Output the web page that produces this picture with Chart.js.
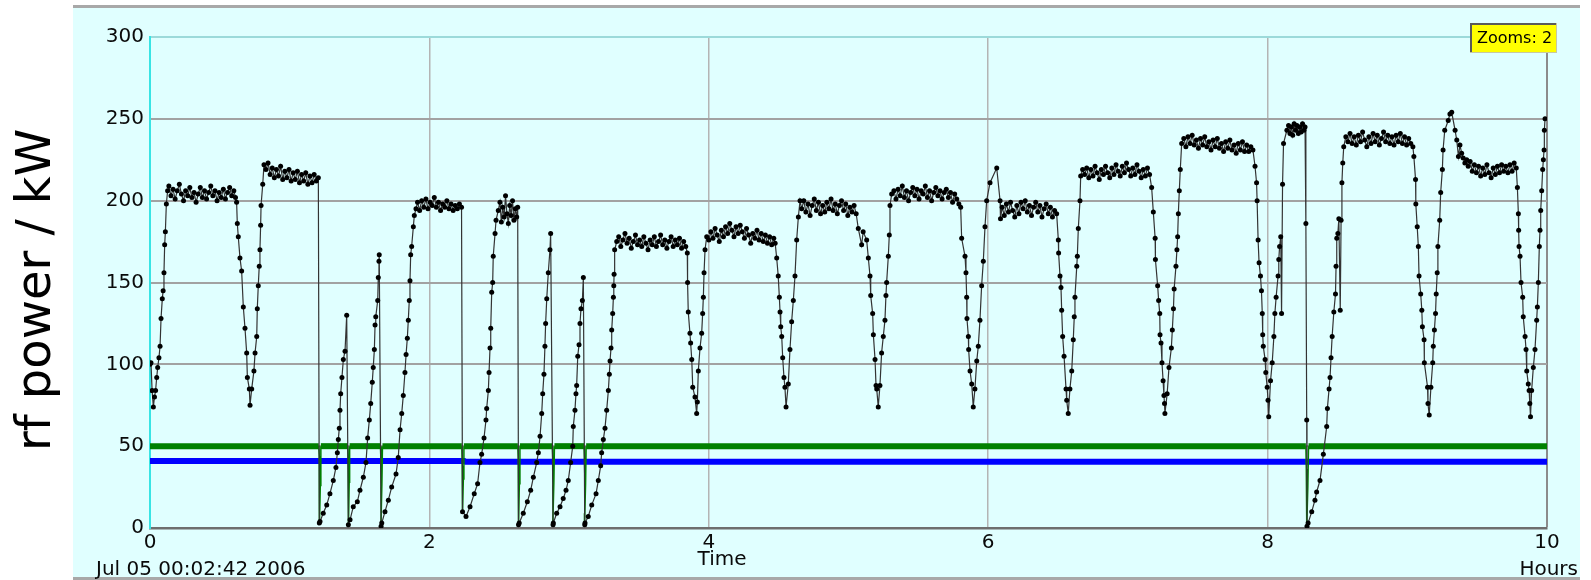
<!DOCTYPE html>
<html><head><meta charset="utf-8">
<script src="https://cdn.jsdelivr.net/npm/chart.js@4.4.0/dist/chart.umd.min.js"></script>
<style>html,body{margin:0;padding:0;background:#fff;}canvas{display:block;}</style>
</head><body>
<canvas id="c" width="1591" height="580"></canvas>
<script>
// ---- data (hours, kW) ----
const xTickValues = [0, 2, 4, 6, 8, 10];
const yTickValues = [0, 50, 100, 150, 200, 250, 300];
const startLabel = 'Jul 05 00:02:42 2006';
const xTitle = 'Time';
const xUnit = 'Hours';
const yTitle = 'rf power / kW';
const zoomLabel = 'Zooms: 2';

const rfPower = [
 [0,100],[0.007,101],[0.015,84],[0.024,74],[0.032,80],[0.04,84],[0.048,92],[0.055,98],[0.064,104],[0.072,111],[0.079,128],[0.088,140],[0.094,145],[0.1,156],[0.105,173],[0.11,181],[0.117,198],[0.126,206],
 [0.135,209],[0.15,203],[0.165,207],[0.18,201],[0.195,206],[0.21,210],[0.225,204],[0.24,200],[0.255,206],[0.27,203],[0.285,208],[0.3,202],[0.315,205],[0.33,199],[0.345,204],[0.36,208],[0.375,202],[0.39,206],[0.405,201],[0.42,205],[0.435,209],[0.45,203],[0.465,206],[0.48,200],[0.495,205],[0.51,202],[0.525,207],[0.54,201],[0.555,205],[0.57,208],[0.585,203],[0.6,206],[0.612,202],
 [0.62,199],[0.625,186],[0.632,178],[0.644,165],[0.656,157],[0.668,135],[0.68,122],[0.692,107],[0.697,92],[0.711,85],[0.716,75],
 [0.728,85],[0.744,96],[0.752,107],[0.764,117],[0.768,134],[0.775,148],[0.782,160],[0.787,170],[0.792,185],[0.795,197],[0.807,210],[0.816,222],
 [0.83,219],[0.845,223],[0.86,216],[0.875,220],[0.89,214],[0.905,219],[0.92,215],[0.935,221],[0.95,213],[0.965,218],[0.98,214],[0.995,219],[1.01,212],[1.025,217],[1.04,213],[1.055,218],[1.07,211],[1.085,216],[1.1,212],[1.115,217],[1.13,210],[1.145,215],[1.16,211],[1.175,216],[1.19,212],[1.205,214],
 [1.212,3],[1.217,4],[1.24,9],[1.265,14],[1.288,21],[1.312,29],[1.331,37],[1.341,46],[1.348,54],[1.355,61],[1.36,72],[1.365,82],[1.374,92],[1.384,103],[1.396,108],[1.408,130],
 [1.42,2],[1.432,5],[1.455,13],[1.484,16],[1.503,23],[1.527,31],[1.546,40],[1.558,55],[1.57,66],[1.58,76],[1.591,89],[1.598,98],[1.606,109],[1.611,124],[1.616,129],[1.63,139],[1.634,153],[1.639,163],[1.641,167],
 [1.654,1],[1.659,3],[1.682,10],[1.706,17],[1.73,25],[1.761,33],[1.777,43],[1.79,60],[1.802,70],[1.813,81],[1.825,95],[1.833,106],[1.842,116],[1.849,127],[1.856,139],[1.861,151],[1.866,167],[1.873,172],[1.885,184],[1.892,191],[1.904,195],
 [1.915,199],[1.93,194],[1.945,200],[1.96,196],[1.975,201],[1.99,195],[2.005,199],[2.02,197],[2.035,202],[2.05,196],[2.065,199],[2.08,194],[2.095,198],[2.11,196],[2.125,200],[2.14,195],[2.155,198],[2.17,194],[2.185,197],[2.2,195],[2.215,198],[2.23,196],
 [2.237,10],[2.262,7],[2.291,13],[2.321,21],[2.345,27],[2.362,40],[2.374,45],[2.391,55],[2.405,66],[2.41,73],[2.422,84],[2.427,95],[2.434,110],[2.439,122],[2.446,144],[2.453,150],[2.457,166],[2.47,180],[2.477,188],[2.493,194],
 [2.505,199],[2.515,187],[2.525,196],[2.535,190],[2.545,203],[2.555,192],[2.565,186],[2.575,197],[2.585,191],[2.595,200],[2.605,188],[2.615,195],[2.625,190],[2.632,196],
 [2.638,2],[2.643,3],[2.672,9],[2.701,16],[2.725,23],[2.744,31],[2.768,40],[2.78,46],[2.792,56],[2.804,70],[2.811,82],[2.82,94],[2.827,111],[2.832,125],[2.84,140],[2.851,156],[2.863,170],[2.868,180],
 [2.885,2],[2.887,3],[2.911,9],[2.935,13],[2.958,18],[2.978,23],[2.994,29],[3.011,40],[3.026,50],[3.03,62],[3.042,72],[3.049,82],[3.054,87],[3.062,105],[3.071,112],[3.078,125],[3.085,134],[3.095,139],[3.102,153],
 [3.112,2],[3.114,3],[3.137,7],[3.162,14],[3.193,21],[3.209,29],[3.226,38],[3.233,46],[3.245,54],[3.257,61],[3.269,72],[3.281,84],[3.288,94],[3.293,102],[3.3,110],[3.305,121],[3.312,131],[3.317,141],[3.32,148],[3.322,155],[3.326,170],[3.341,175],
 [3.355,178],[3.37,172],[3.385,176],[3.4,180],[3.415,174],[3.43,177],[3.445,171],[3.46,175],[3.475,179],[3.49,173],[3.505,176],[3.52,172],[3.535,178],[3.55,174],[3.565,170],[3.58,176],[3.595,173],[3.61,178],[3.625,172],[3.64,175],[3.655,179],[3.67,173],[3.685,176],[3.7,171],[3.715,175],[3.73,178],[3.745,172],[3.76,176],[3.775,173],[3.79,177],[3.805,171],[3.82,175],[3.835,172],
 [3.846,168],[3.848,150],[3.853,132],[3.865,119],[3.87,113],[3.878,103],[3.885,86],[3.901,80],[3.913,70],
 [3.918,77],[3.925,96],[3.937,110],[3.949,119],[3.956,131],[3.961,141],[3.966,156],[3.973,170],[3.985,178],
 [4.0,176],[4.015,181],[4.03,177],[4.045,183],[4.06,179],[4.075,175],[4.09,182],[4.105,178],[4.12,184],[4.135,180],[4.15,186],[4.165,182],[4.18,178],[4.195,184],[4.21,180],[4.225,185],[4.24,181],[4.255,177],[4.27,183],[4.285,179],[4.3,174],[4.315,180],[4.33,177],[4.345,182],[4.36,176],[4.375,180],[4.39,175],[4.405,179],[4.42,174],[4.435,178],[4.45,173],[4.465,177],[4.475,174],
 [4.486,165],[4.497,154],[4.505,141],[4.51,132],[4.515,123],[4.522,117],[4.529,104],[4.538,92],[4.545,86],[4.553,74],
 [4.569,88],[4.581,109],[4.593,126],[4.605,139],[4.617,154],[4.629,176],[4.641,190],[4.653,200],
 [4.665,195],[4.68,200],[4.695,193],[4.71,198],[4.725,191],[4.74,197],[4.755,201],[4.77,194],[4.785,199],[4.8,192],[4.815,197],[4.83,193],[4.845,199],[4.86,195],[4.875,201],[4.89,194],[4.905,198],[4.92,192],[4.935,197],[4.95,200],[4.965,194],[4.98,198],[4.995,191],[5.01,196],[5.025,193],[5.04,197],[5.055,192],
 [5.07,183],[5.094,173],[5.105,181],[5.13,176],[5.142,165],[5.154,154],[5.159,142],[5.173,131],[5.178,118],[5.19,103],[5.197,87],[5.202,85],[5.213,74],
 [5.225,87],[5.237,107],[5.249,117],[5.261,127],[5.268,142],[5.273,150],[5.285,166],[5.292,179],[5.297,197],[5.309,204],
 [5.325,206],[5.34,201],[5.355,207],[5.37,203],[5.385,209],[5.4,202],[5.415,206],[5.43,200],[5.445,205],[5.46,208],[5.475,203],[5.49,207],[5.505,201],[5.52,206],[5.535,204],[5.55,209],[5.565,202],[5.58,206],[5.595,200],[5.61,205],[5.625,208],[5.64,203],[5.655,206],[5.67,201],[5.685,205],[5.7,207],[5.715,202],[5.73,205],[5.745,199],[5.76,204],[5.775,201],[5.79,198],
 [5.803,196],[5.81,177],[5.834,166],[5.841,156],[5.846,141],[5.848,128],[5.858,117],[5.86,109],[5.87,96],[5.882,88],[5.893,74],
 [5.905,85],[5.918,102],[5.929,111],[5.941,127],[5.953,148],[5.965,163],[5.977,184],[5.989,200],[6.013,211],[6.061,220],[6.085,200],[6.088,189],
 [6.1,196],[6.115,191],[6.13,198],[6.145,193],[6.16,199],[6.175,194],[6.19,190],[6.205,197],[6.22,192],[6.235,199],[6.25,195],[6.265,200],[6.28,193],[6.295,197],[6.31,191],[6.325,196],[6.34,199],[6.355,193],[6.37,197],[6.385,190],[6.4,195],[6.415,198],[6.43,192],[6.445,196],[6.46,190],[6.475,194],
 [6.49,192],[6.502,176],[6.504,168],[6.514,154],[6.521,147],[6.526,133],[6.533,117],[6.543,105],[6.557,85],[6.562,78],[6.573,70],
 [6.585,85],[6.598,96],[6.609,115],[6.616,129],[6.621,141],[6.634,160],[6.638,166],[6.645,183],[6.657,200],[6.662,215],[6.676,219],
 [6.69,216],[6.705,220],[6.72,214],[6.735,219],[6.75,215],[6.765,221],[6.78,217],[6.795,213],[6.81,219],[6.825,216],[6.84,221],[6.855,217],[6.87,214],[6.885,220],[6.9,216],[6.915,222],[6.93,218],[6.945,215],[6.96,221],[6.975,217],[6.99,223],[7.005,219],[7.02,215],[7.035,220],[7.05,216],[7.065,222],[7.08,218],[7.095,214],[7.11,219],[7.125,215],[7.14,220],[7.155,216],
 [7.17,208],[7.182,193],[7.195,177],[7.197,164],[7.213,148],[7.22,139],[7.228,131],[7.23,118],[7.237,113],[7.244,101],[7.252,90],[7.258,81],[7.262,76],[7.265,70],
 [7.281,82],[7.294,98],[7.311,110],[7.318,121],[7.326,134],[7.331,146],[7.344,160],[7.351,170],[7.356,178],[7.361,192],[7.368,206],[7.375,219],[7.385,235],
 [7.4,238],[7.415,233],[7.43,239],[7.445,235],[7.46,240],[7.475,234],[7.49,237],[7.505,232],[7.52,238],[7.535,234],[7.55,239],[7.565,233],[7.58,236],[7.595,231],[7.61,237],[7.625,233],[7.64,238],[7.655,232],[7.67,235],[7.685,230],[7.7,236],[7.715,232],[7.73,237],[7.745,231],[7.76,234],[7.775,229],[7.79,235],[7.805,231],[7.82,236],[7.835,230],[7.85,234],[7.865,230],[7.88,233],[7.895,231],
 [7.91,221],[7.921,211],[7.925,200],[7.932,176],[7.939,162],[7.949,154],[7.956,145],[7.962,131],[7.965,118],[7.969,111],[7.982,103],[7.987,95],[7.997,86],[8.003,78],[8.008,68],
 [8.021,90],[8.033,101],[8.045,117],[8.052,131],[8.061,141],[8.075,154],[8.08,164],[8.086,172],[8.094,178],[8.1,131],[8.107,210],[8.114,235],[8.138,243],
 [8.15,246],[8.16,241],[8.17,245],[8.18,240],[8.19,247],[8.2,243],[8.21,246],[8.22,241],[8.23,245],[8.24,242],[8.25,247],[8.26,243],[8.268,245],
 [8.274,186],[8.28,66],[8.282,1],[8.29,3],[8.316,10],[8.339,17],[8.351,22],[8.375,29],[8.399,45],[8.423,62],[8.428,73],[8.44,85],[8.447,92],[8.454,104],[8.462,117],[8.474,132],[8.486,143],[8.49,160],[8.495,177],[8.503,180],[8.51,189],[8.52,133],[8.526,188],[8.532,211],[8.538,223],[8.545,233],[8.56,239],
 [8.575,236],[8.59,241],[8.605,235],[8.62,239],[8.635,234],[8.65,240],[8.665,236],[8.68,242],[8.695,237],[8.71,233],[8.725,239],[8.74,235],[8.755,241],[8.77,236],[8.785,240],[8.8,234],[8.815,238],[8.83,242],[8.845,236],[8.86,240],[8.875,235],[8.89,239],[8.905,234],[8.92,240],[8.935,236],[8.95,241],[8.965,235],[8.98,239],[8.995,234],[9.01,238],[9.025,235],
 [9.04,233],[9.047,227],[9.059,213],[9.061,198],[9.071,184],[9.079,172],[9.084,154],[9.096,143],[9.104,133],[9.108,123],[9.12,115],[9.122,101],[9.145,86],[9.148,76],[9.157,69],
 [9.169,86],[9.182,101],[9.186,111],[9.194,121],[9.202,131],[9.207,143],[9.214,156],[9.219,172],[9.232,188],[9.239,205],[9.251,219],[9.256,231],[9.268,243],[9.293,249],[9.305,253],[9.318,254],
 [9.342,243],[9.354,237],[9.366,227],[9.377,234],[9.389,229],[9.4,226],[9.412,223],[9.425,225],[9.436,221],
 [9.45,224],[9.465,218],[9.48,222],[9.495,217],[9.51,221],[9.525,215],[9.54,220],[9.555,216],[9.57,222],[9.585,217],[9.6,214],[9.615,220],[9.63,216],[9.645,221],[9.66,217],[9.675,222],[9.69,218],[9.705,221],[9.72,217],[9.735,222],[9.75,218],[9.765,223],[9.78,220],
 [9.788,208],[9.795,192],[9.797,182],[9.8,172],[9.807,166],[9.814,150],[9.826,141],[9.83,129],[9.843,117],[9.85,109],[9.855,96],[9.866,88],[9.872,84],[9.877,76],[9.882,68],
 [9.89,84],[9.902,98],[9.914,109],[9.926,127],[9.931,135],[9.938,150],[9.945,172],[9.95,182],[9.955,194],[9.962,206],[9.969,219],[9.974,225],[9.979,231],[9.981,243],[9.986,250]
];

const greenTrace = [
 [0,50],[1.208,50],[1.212,44],[1.215,27],[1.213,10],[1.211,2],[1.219,26],[1.223,50],
 [1.416,50],[1.419,42],[1.422,24],[1.421,9],[1.419,1],[1.426,28],[1.429,50],
 [1.65,50],[1.653,41],[1.656,25],[1.655,8],[1.653,1],[1.66,27],[1.664,50],
 [2.232,50],[2.235,38],[2.238,22],[2.236,9],[2.243,30],[2.247,50],
 [2.633,50],[2.636,42],[2.64,26],[2.638,9],[2.636,1],[2.644,27],[2.648,50],
 [2.88,50],[2.883,43],[2.887,26],[2.885,9],[2.883,1],[2.891,28],[2.895,50],
 [3.107,50],[3.11,42],[3.114,25],[3.112,9],[3.11,1],[3.118,27],[3.122,50],
 [8.274,50],[8.277,36],[8.281,19],[8.279,6],[8.281,1],[8.288,25],[8.293,50],
 [10,50]
];

const blueTrace = [[0,41],[2.25,41],[2.26,40.5],[10,40.5]];

// ---- drawing ----
const FONT = "'DejaVu Sans', Verdana, sans-serif";
const TXT = '#0a0a0a';
const toXY = a => a.map(([x, y]) => ({x, y}));

const panelPlugin = {
  id: 'panel',
  beforeDraw(chart) {
    const c = chart.ctx;
    c.save();
    c.fillStyle = '#ffffff';
    c.fillRect(0, 0, chart.width, chart.height);
    c.fillStyle = '#e0ffff';
    c.fillRect(73, 5, 1580 - 73, chart.height - 5);
    c.fillStyle = '#a8a8a8';
    c.fillRect(73, 5, 1580 - 73, 3);
    c.fillRect(73, chart.height - 3, 1580 - 73, 3);
    c.restore();
  },
  afterDraw(chart) {
    const c = chart.ctx;
    c.save();
    c.fillStyle = '#000';
    c.font = '48px ' + FONT;
    c.textAlign = 'center';
    c.textBaseline = 'alphabetic';
    c.translate(50, 290);
    c.rotate(-Math.PI / 2);
    c.fillText(yTitle, 0, 0);
    c.restore();
    c.save();
    c.fillStyle = TXT;
    c.font = '20px ' + FONT;
    c.textBaseline = 'alphabetic';
    c.textAlign = 'left';
    c.fillText(startLabel, 96, 575);
    c.textAlign = 'right';
    c.fillText(xUnit, 1578, 575);
    c.textAlign = 'center';
    c.fillText(xTitle, 722, 565);
    const bx = 1470, by = 23, bw = 87, bh = 30;
    c.fillStyle = '#ffff00';
    c.fillRect(bx, by, bw, bh);
    c.fillStyle = '#5a5a5a';
    c.fillRect(bx, by, bw, 2);
    c.fillRect(bx, by, 2, bh);
    c.fillStyle = '#c8c8a0';
    c.fillRect(bx, by + bh - 1, bw, 1);
    c.fillRect(bx + bw - 1, by, 1, bh);
    c.fillStyle = '#000';
    c.font = '16px ' + FONT;
    c.textAlign = 'center';
    c.textBaseline = 'middle';
    c.fillText(zoomLabel, bx + bw / 2 + 1, by + bh / 2 + 1);
    c.restore();
  }
};

new Chart(document.getElementById('c').getContext('2d'), {
  type: 'line',
  data: {
    datasets: [
      { label: 'rf power', data: toXY(rfPower), borderColor: '#333333', borderWidth: 1.2,
        pointRadius: 2.5, pointBackgroundColor: '#000', pointBorderWidth: 0, tension: 0 },
      { label: 'green', data: toXY(greenTrace), borderColor: '#008000', borderWidth: 6, pointRadius: 0, tension: 0,
        segment: { borderWidth: s => (s.p0.parsed.y < 45 || s.p1.parsed.y < 45) ? 1.5 : 6 } },
      { label: 'blue', data: toXY(blueTrace), borderColor: '#0000ff', borderWidth: 6, pointRadius: 0, tension: 0 }
    ]
  },
  options: {
    responsive: false, animation: false, devicePixelRatio: 1,
    layout: { padding: { left: 0, right: 44, top: 37, bottom: 0 } },
    plugins: { legend: { display: false }, tooltip: { enabled: false } },
    scales: {
      x: {
        type: 'linear', min: 0, max: 10,
        afterBuildTicks: s => { s.ticks = xTickValues.map(v => ({ value: v })); },
        afterFit: s => { s.height = 52; },
        ticks: { font: { family: FONT, size: 20 }, color: TXT, padding: 3, maxRotation: 0, autoSkip: false },
        grid: {
          drawTicks: false,
          color: c => c.tick.value === 0 ? 'rgba(0,0,0,0)' : (c.tick.value === 10 ? '#8c8c8c' : '#b4b4b4'),
          lineWidth: c => c.tick.value === 10 ? 2 : 1.5
        },
        border: { color: '#6e6e6e', width: 2.5 }
      },
      y: {
        min: 0, max: 300,
        afterBuildTicks: s => { s.ticks = yTickValues.map(v => ({ value: v })); },
        afterFit: s => { s.width = 150; },
        ticks: { font: { family: FONT, size: 20 }, color: TXT, padding: 6 },
        grid: {
          drawTicks: false,
          color: c => c.tick.value === 0 ? 'rgba(0,0,0,0)' : (c.tick.value === 300 ? '#9cdada' : '#a2a2a2'),
          lineWidth: 2
        },
        border: { color: '#38e4e4', width: 2 }
      }
    }
  },
  plugins: [panelPlugin]
});
</script>
</body></html>
